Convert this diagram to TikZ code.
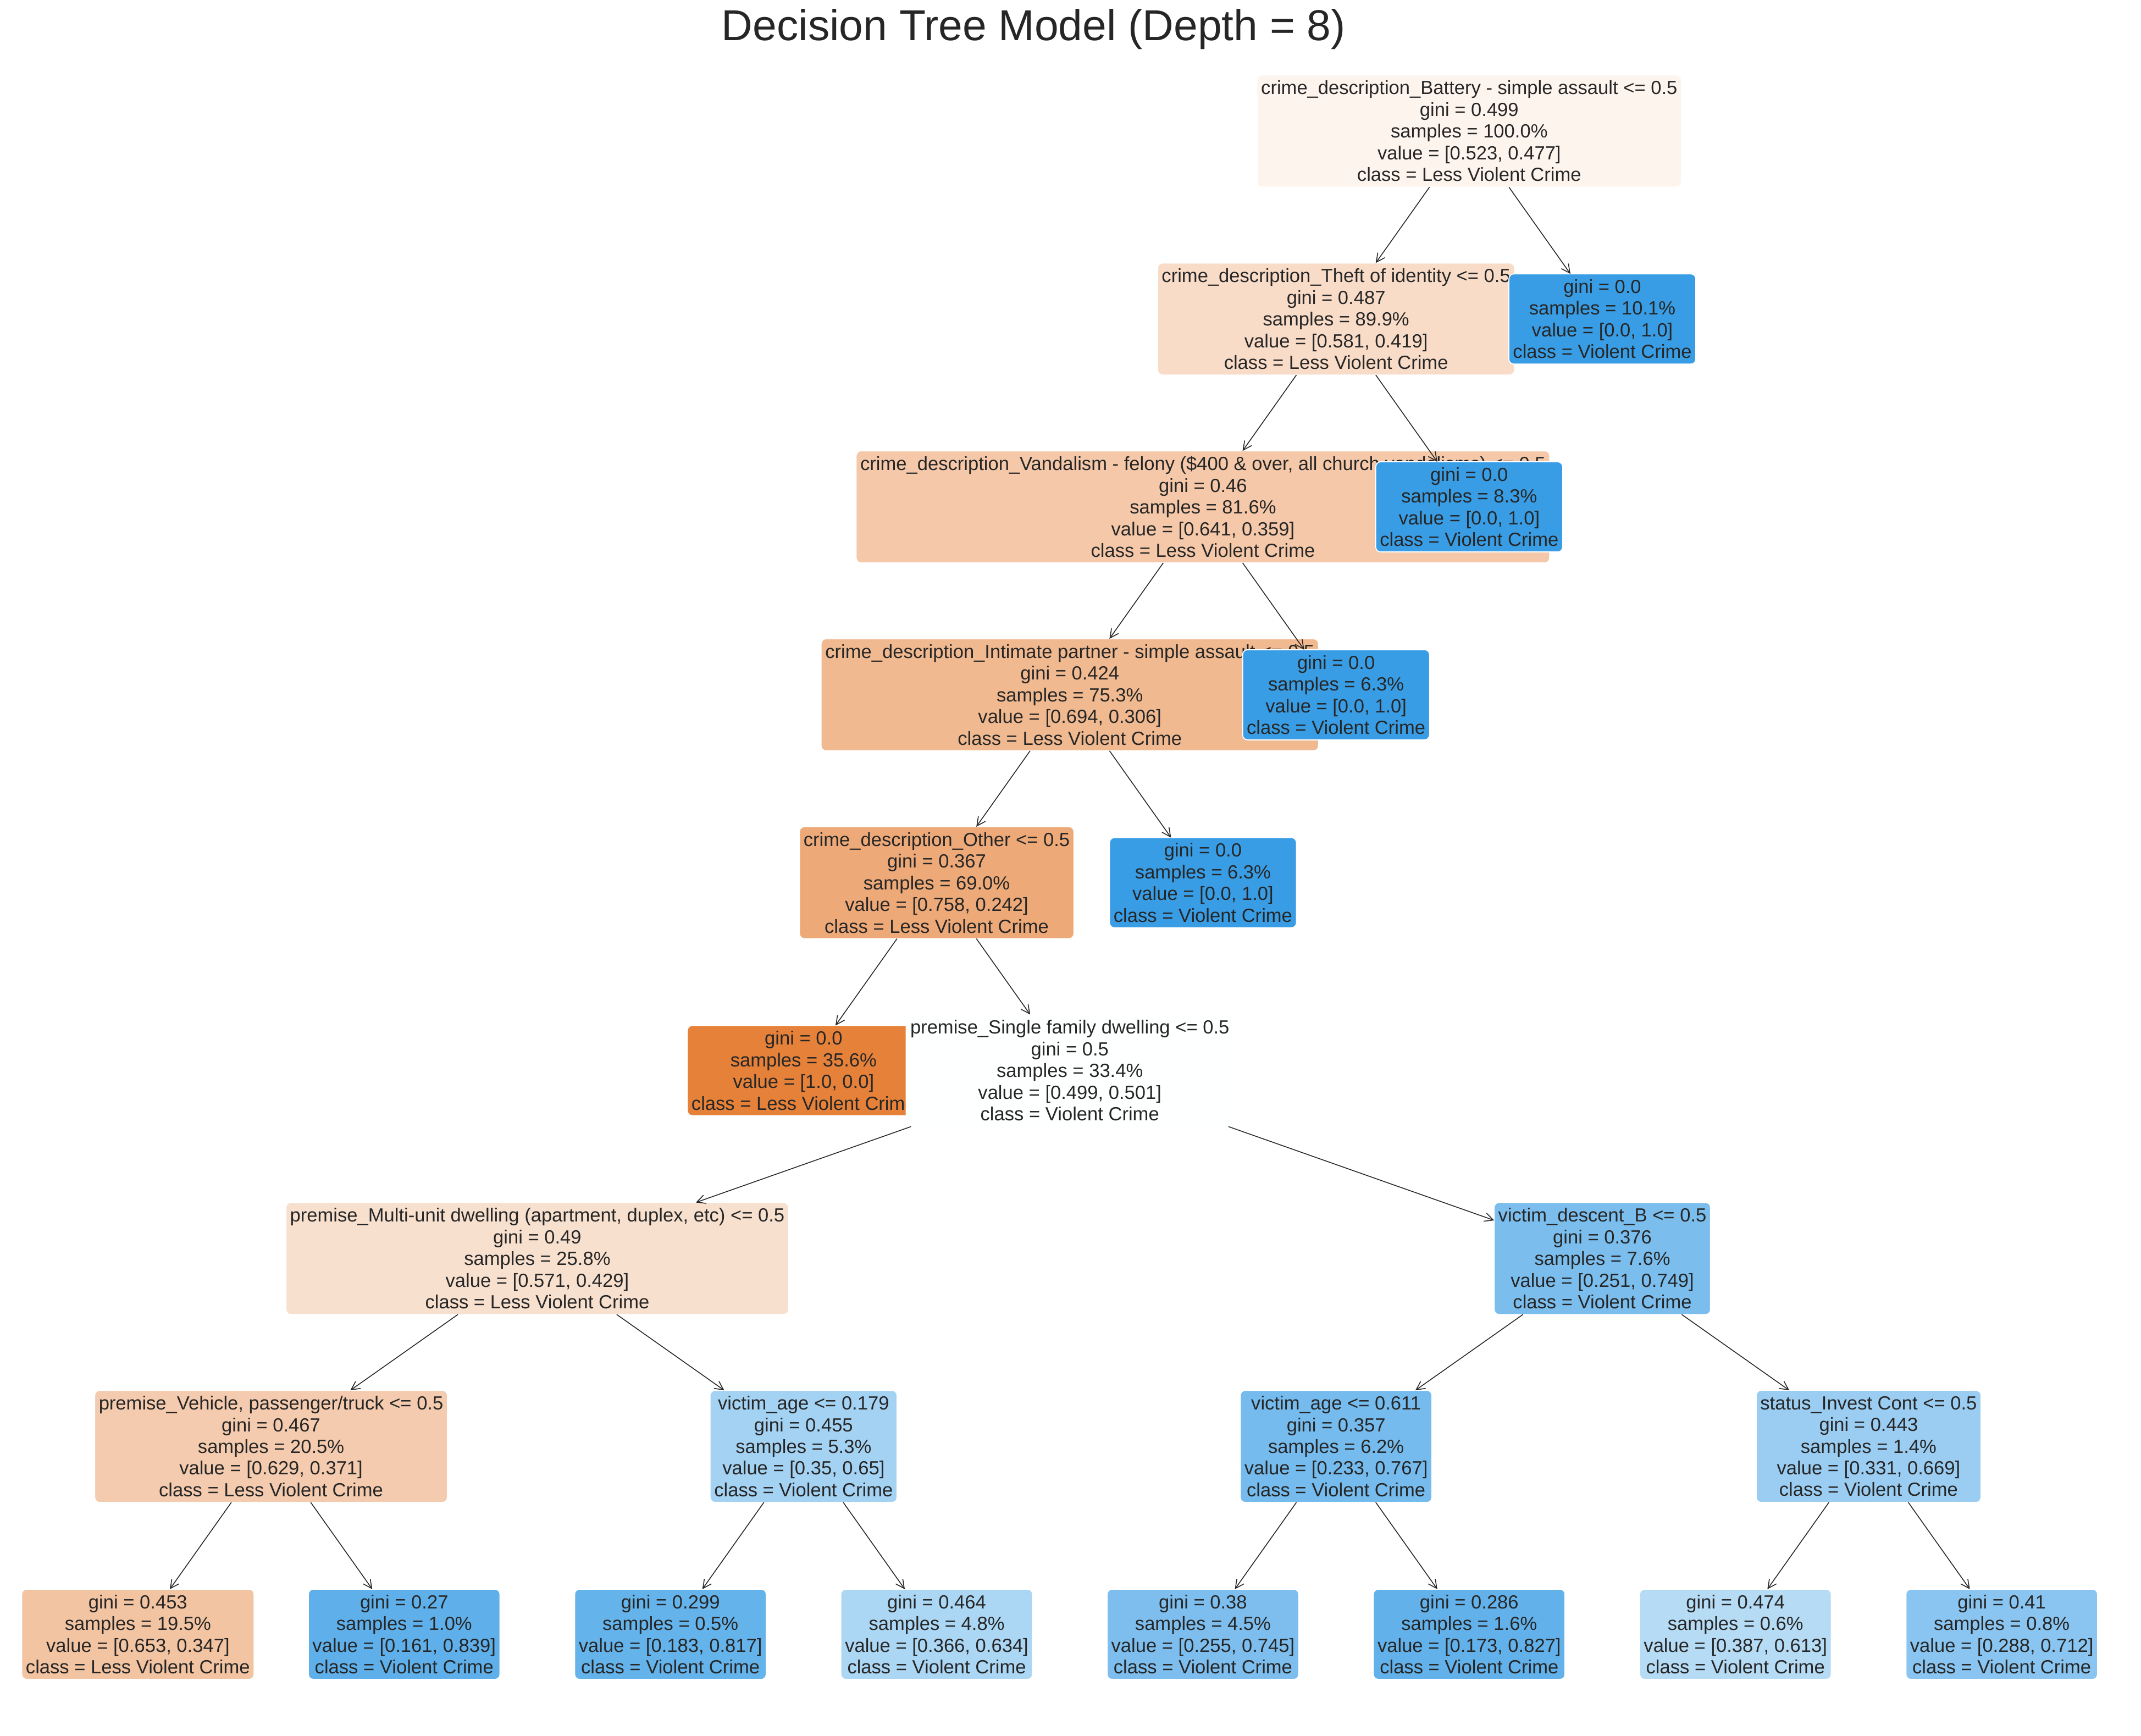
\documentclass[tikz,border=0pt]{standalone}
\usepackage{fontspec}
\setmainfont{Liberation Sans}
\usetikzlibrary{arrows.meta}
\definecolor{txt}{HTML}{262626}
\definecolor{cRoot}{RGB}{253,244,238}
\definecolor{cNa}{RGB}{248,220,200}
\definecolor{cNb}{RGB}{244,200,168}
\definecolor{cNc}{RGB}{240,185,144}
\definecolor{cNd}{RGB}{237,169,120}
\definecolor{cOr}{RGB}{229,129,57}
\definecolor{cBl}{RGB}{57,157,229}
\definecolor{cNe}{RGB}{254,255,255}
\definecolor{cNf}{RGB}{248,224,206}
\definecolor{cNg}{RGB}{123,190,238}
\definecolor{cNh}{RGB}{244,203,174}
\definecolor{cNi}{RGB}{164,210,243}
\definecolor{cNj}{RGB}{117,187,237}
\definecolor{cNk}{RGB}{155,205,242}
\definecolor{cLa}{RGB}{243,196,162}
\definecolor{cLb}{RGB}{95,176,234}
\definecolor{cLc}{RGB}{101,179,235}
\definecolor{cLd}{RGB}{171,214,244}
\definecolor{cLe}{RGB}{125,190,238}
\definecolor{cLf}{RGB}{98,177,234}
\definecolor{cLg}{RGB}{182,219,245}
\definecolor{cLh}{RGB}{137,197,240}
\newcommand{\nodefont}{\fontsize{9.9}{11.3}\selectfont}
\tikzset{
  tn/.style={rectangle, rounded corners=0.09cm, draw=white, line width=0.5pt,
    inner xsep=0.075cm, inner ysep=0.05cm, align=center, font=\nodefont,
    text=txt, outer sep=0pt},
  splitbox/.style={tn, minimum height=2.05cm},
  leafbox/.style={tn, minimum height=1.65cm},
  conn/.style={-{Straight Barb[length=4.5pt,width=4.5pt]}, line width=0.45pt, draw=black!85}
}
\begin{document}
\begin{tikzpicture}[x=0.025cm,y=-0.025cm]
\useasboundingbox[fill=white] (0,0) rectangle (1568,1271);
\node[anchor=base, font=\fontsize{22.5}{27}\selectfont, text=txt] (title) at (757,29.5) {Decision Tree Model (Depth = 8)};

% level 0
\node[splitbox, fill=cRoot] (root) at (1076,96) {crime\_description\_Battery - simple assault <= 0.5\\gini = 0.499\\samples = 100.0\%\\value = [0.523, 0.477]\\class = Less Violent Crime};
% level 1
\node[splitbox, fill=cNa] (n1) at (978.5,233.6) {crime\_description\_Theft of identity <= 0.5\\gini = 0.487\\samples = 89.9\%\\value = [0.581, 0.419]\\class = Less Violent Crime};
\draw[conn] (root) -- (n1);
% level 2
\node[splitbox, fill=cNb] (n2) at (881,371.2) {crime\_description\_Vandalism - felony (\$400 \& over, all church vandalisms) <= 0.5\\gini = 0.46\\samples = 81.6\%\\value = [0.641, 0.359]\\class = Less Violent Crime};
\draw[conn] (n1) -- (n2);
% level 3
\node[splitbox, fill=cNc] (n3) at (783.5,508.8) {crime\_description\_Intimate partner - simple assault <= 0.5\\gini = 0.424\\samples = 75.3\%\\value = [0.694, 0.306]\\class = Less Violent Crime};
\draw[conn] (n2) -- (n3);
% level 4
\node[splitbox, fill=cNd] (n4) at (686,646.4) {crime\_description\_Other <= 0.5\\gini = 0.367\\samples = 69.0\%\\value = [0.758, 0.242]\\class = Less Violent Crime};
\draw[conn] (n3) -- (n4);
% level 5
\node[leafbox, fill=cOr] (lE) at (588.5,784) {gini = 0.0\\samples = 35.6\%\\value = [1.0, 0.0]\\class = Less Violent Crime};
\draw[conn] (n4) -- (lE);
\node[splitbox, fill=cNe, draw=cNe] (n5) at (783.5,784) {premise\_Single family dwelling <= 0.5\\gini = 0.5\\samples = 33.4\%\\value = [0.499, 0.501]\\class = Violent Crime};
\draw[conn] (n4) -- (n5);
% level 6 left
\node[splitbox, fill=cNf] (n6) at (393.5,921.6) {premise\_Multi-unit dwelling (apartment, duplex, etc) <= 0.5\\gini = 0.49\\samples = 25.8\%\\value = [0.571, 0.429]\\class = Less Violent Crime};
\draw[conn] (n5) -- (n6);
\node[splitbox, fill=cNh] (n8) at (198.5,1059.2) {premise\_Vehicle, passenger/truck <= 0.5\\gini = 0.467\\samples = 20.5\%\\value = [0.629, 0.371]\\class = Less Violent Crime};
\draw[conn] (n6) -- (n8);
\node[leafbox, fill=cLa] (L1) at (101,1196.8) {gini = 0.453\\samples = 19.5\%\\value = [0.653, 0.347]\\class = Less Violent Crime};
\draw[conn] (n8) -- (L1);
\node[leafbox, fill=cLb] (L2) at (296,1196.8) {gini = 0.27\\samples = 1.0\%\\value = [0.161, 0.839]\\class = Violent Crime};
\draw[conn] (n8) -- (L2);
\node[splitbox, fill=cNi] (n9) at (588.5,1059.2) {victim\_age <= 0.179\\gini = 0.455\\samples = 5.3\%\\value = [0.35, 0.65]\\class = Violent Crime};
\draw[conn] (n6) -- (n9);
\node[leafbox, fill=cLc] (L3) at (491,1196.8) {gini = 0.299\\samples = 0.5\%\\value = [0.183, 0.817]\\class = Violent Crime};
\draw[conn] (n9) -- (L3);
\node[leafbox, fill=cLd] (L4) at (686,1196.8) {gini = 0.464\\samples = 4.8\%\\value = [0.366, 0.634]\\class = Violent Crime};
\draw[conn] (n9) -- (L4);
% level 6 right
\node[splitbox, fill=cNg] (n7) at (1173.5,921.6) {victim\_descent\_B <= 0.5\\gini = 0.376\\samples = 7.6\%\\value = [0.251, 0.749]\\class = Violent Crime};
\draw[conn] (n5) -- (n7);
\node[splitbox, fill=cNj] (n10) at (978.5,1059.2) {victim\_age <= 0.611\\gini = 0.357\\samples = 6.2\%\\value = [0.233, 0.767]\\class = Violent Crime};
\draw[conn] (n7) -- (n10);
\node[leafbox, fill=cLe] (L5) at (881,1196.8) {gini = 0.38\\samples = 4.5\%\\value = [0.255, 0.745]\\class = Violent Crime};
\draw[conn] (n10) -- (L5);
\node[leafbox, fill=cLf] (L6) at (1076,1196.8) {gini = 0.286\\samples = 1.6\%\\value = [0.173, 0.827]\\class = Violent Crime};
\draw[conn] (n10) -- (L6);
\node[splitbox, fill=cNk] (n11) at (1368.5,1059.2) {status\_Invest Cont <= 0.5\\gini = 0.443\\samples = 1.4\%\\value = [0.331, 0.669]\\class = Violent Crime};
\draw[conn] (n7) -- (n11);
\node[leafbox, fill=cLg] (L7) at (1271,1196.8) {gini = 0.474\\samples = 0.6\%\\value = [0.387, 0.613]\\class = Violent Crime};
\draw[conn] (n11) -- (L7);
\node[leafbox, fill=cLh] (L8) at (1466,1196.8) {gini = 0.41\\samples = 0.8\%\\value = [0.288, 0.712]\\class = Violent Crime};
\draw[conn] (n11) -- (L8);
% pure leaves drawn last (on top)
\node[leafbox, fill=cBl] (lD) at (881,646.4) {gini = 0.0\\samples = 6.3\%\\value = [0.0, 1.0]\\class = Violent Crime};
\draw[conn] (n3) -- (lD);
\node[leafbox, fill=cBl] (lC) at (978.5,508.8) {gini = 0.0\\samples = 6.3\%\\value = [0.0, 1.0]\\class = Violent Crime};
\draw[conn] (n2) -- (lC);
\node[leafbox, fill=cBl] (lB) at (1076,371.2) {gini = 0.0\\samples = 8.3\%\\value = [0.0, 1.0]\\class = Violent Crime};
\draw[conn] (n1) -- (lB);
\node[leafbox, fill=cBl] (lA) at (1173.5,233.6) {gini = 0.0\\samples = 10.1\%\\value = [0.0, 1.0]\\class = Violent Crime};
\draw[conn] (root) -- (lA);
\end{tikzpicture}
\end{document}
